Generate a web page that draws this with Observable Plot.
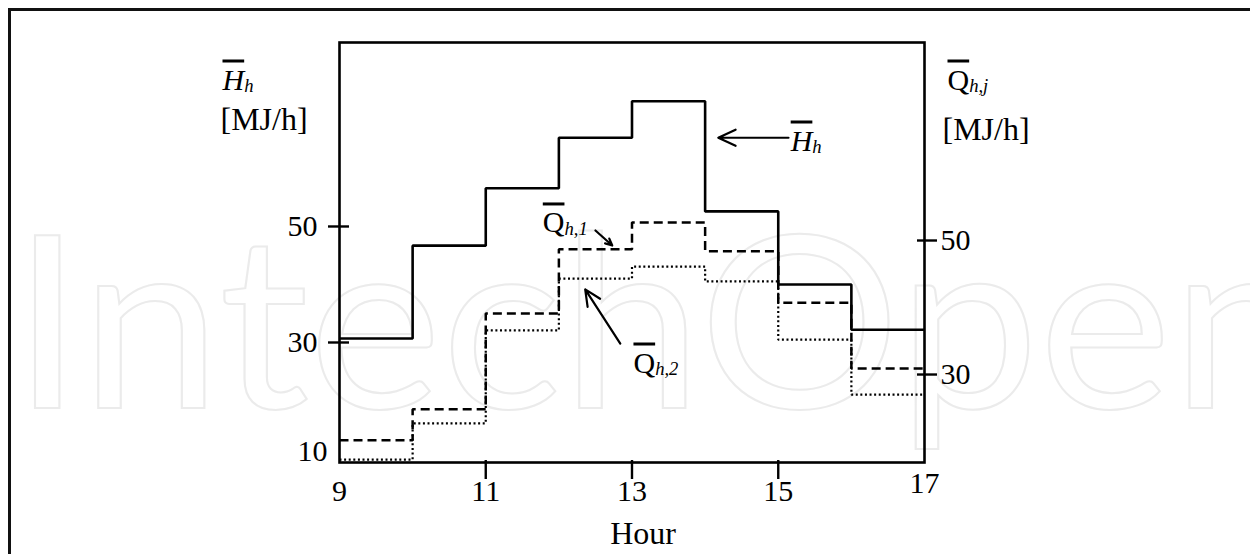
<!DOCTYPE html>
<html>
<head>
<meta charset="utf-8">
<script src="https://cdn.jsdelivr.net/npm/d3@7"></script>
<script src="https://cdn.jsdelivr.net/npm/@observablehq/plot@0.6"></script>
<style>
  html, body { margin: 0; padding: 0; background: #fff; }
  #fig { position: relative; width: 1250px; height: 554px; overflow: hidden; background: #fff; }
  #border { position: absolute; left: 8px; top: 8px; width: 1400px; height: 700px;
            border-left: 3px solid #111; border-top: 3px solid #111; }
  .layer { position: absolute; left: 0; top: 0; }
</style>
</head>
<body>
<div id="fig">
  <div id="border"></div>
  <svg class="layer" width="1250" height="554" overflow="hidden">
    <text x="12" y="408" font-family="Lato" font-size="240" fill="none" stroke="#ebebeb" stroke-width="2"
          textLength="1300" lengthAdjust="spacingAndGlyphs">IntechOpen</text>
  </svg>
</div>
<script>
// ---- data ----
const hours = [9, 10, 11, 12, 13, 14, 15, 16];      // start of each hourly step
const hourEnd = 17;                                    // end of the last step
const heatH = [30.7, 46.7, 56.6, 65.3, 71.6, 52.6, 40.0, 32.2];   // H̄_h [MJ/h], left axis
const heatQ1 = [20.2, 24.8, 39.1, 48.7, 52.7, 48.4, 40.7, 30.9];  // Q̄_h,1 [MJ/h], right axis
const heatQ2 = [17.3, 22.7, 36.6, 44.3, 46.1, 43.9, 35.2, 27.0];  // Q̄_h,2 [MJ/h], right axis
const xTickLabels = [9, 11, 13, 15];
const xTickLast = [17];
const xTickMarks = [11, 13, 15];
const leftTicks = [30, 50];
const leftExtraLabel = [10];
const rightTicks = [30, 50];

const steps = vals => hours.map((h, i) => ({hour: h, value: vals[i]}))
  .concat([{hour: hourEnd, value: vals[vals.length - 1]}]);

const common = {
  width: 1250, height: 554,
  marginLeft: 339, marginRight: 326, marginTop: 42, marginBottom: 92,
  style: {background: "transparent", fontFamily: "'Liberation Serif', serif", fontSize: "30px", color: "#000", overflow: "visible"}
};

const plotA = Plot.plot({
  ...common,
  x: {domain: [9, 17], label: null},
  y: {domain: [9.31, 81.72], label: null},
  marks: [
    Plot.frame({stroke: "#000", strokeWidth: 2.6}),
    Plot.line(steps(heatH), {x: "hour", y: "value", curve: "step-after", stroke: "#000", strokeWidth: 2.6, strokeLinejoin: "miter", strokeLinecap: "butt"}),
    Plot.axisX({ticks: xTickMarks, tickSize: 19, dy: -2, fill: "none", stroke: "#000", strokeWidth: 2.4, label: null}),
    Plot.axisX({ticks: xTickLabels, tickSize: 0, tickPadding: 17, label: null}),
    Plot.axisX({ticks: xTickLast, tickSize: 0, tickPadding: 9, label: null}),
    Plot.axisY({ticks: leftTicks, tickSize: 21, dx: 10, fill: "none", stroke: "#000", strokeWidth: 2.4, label: null}),
    Plot.axisY({ticks: leftTicks, tickSize: 0, tickPadding: 22, label: null}),
    Plot.axisY({ticks: leftExtraLabel, tickSize: 0, tickPadding: 12, dy: -7, label: null}),
    Plot.arrow([{x1: 15.14, y1: 65.3, x2: 14.18, y2: 65.3}], {x1: "x1", y1: "y1", x2: "x2", y2: "y2", stroke: "#000", strokeWidth: 2.2, headLength: 13, headAngle: 50}),
    Plot.text([{x: 15.17, y: 63.1, t: "Hh"}], {x: "x", y: "y", text: "t", textAnchor: "start", lineAnchor: "bottom", fontSize: 30}),
    Plot.text(["Hh"], {text: d => d, frameAnchor: "top-left", dx: -117, dy: 47, textAnchor: "start", lineAnchor: "bottom", fontSize: 30}),
    Plot.text(["[MJ/h]"], {text: d => d, frameAnchor: "top-left", dx: -119, dy: 87, textAnchor: "start", lineAnchor: "bottom", fontSize: 32}),
    Plot.text(["Hour"], {text: d => d, frameAnchor: "bottom", dx: 11, dy: 81, textAnchor: "middle", lineAnchor: "bottom", fontSize: 32})
  ]
});

const plotB = Plot.plot({
  ...common,
  x: {domain: [9, 17], axis: null, label: null},
  y: {domain: [16.87, 79.55], label: null},
  marks: [
    Plot.line(steps(heatQ1), {x: "hour", y: "value", curve: "step-after", stroke: "#000", strokeWidth: 2.5, strokeDasharray: "9,5", strokeLinejoin: "miter", strokeLinecap: "butt"}),
    Plot.line(steps(heatQ2), {x: "hour", y: "value", curve: "step-after", stroke: "#000", strokeWidth: 2.2, strokeDasharray: "2,2.6", strokeLinejoin: "miter", strokeLinecap: "butt"}),
    Plot.axisY({ticks: rightTicks, anchor: "right", tickSize: 20, dx: -8, fill: "none", stroke: "#000", strokeWidth: 2.4, label: null}),
    Plot.axisY({ticks: rightTicks, anchor: "right", tickSize: 0, tickPadding: 16, label: null}),
    Plot.arrow([{x1: 12.50, y1: 51.5, x2: 12.73, y2: 49.25}, {x1: 12.84, y1: 34.6, x2: 12.36, y2: 42.7}],
      {x1: "x1", y1: "y1", x2: "x2", y2: "y2", stroke: "#000", strokeWidth: 2.2, headLength: 12, headAngle: 50}),
    Plot.text([{x: 11.78, y: 51.2, t: "Qh,1"}, {x: 13.02, y: 30.3, t: "Qh,2"}], {x: "x", y: "y", text: "t", textAnchor: "start", lineAnchor: "bottom", fontSize: 30}),
    Plot.text(["Qh,j"], {text: d => d, frameAnchor: "top-right", dx: 23, dy: 47, textAnchor: "start", lineAnchor: "bottom", fontSize: 30}),
    Plot.text(["[MJ/h]"], {text: d => d, frameAnchor: "top-right", dx: 18, dy: 97, textAnchor: "start", lineAnchor: "bottom", fontSize: 32})
  ]
});

const fig = document.getElementById("fig");
for (const p of [plotA, plotB]) {
  p.classList.add("layer");
  p.style.position = "absolute";
  p.style.left = "0px";
  p.style.top = "0px";
  fig.appendChild(p);
}

// symbols with overline and subscript
const symbols = {
  "Hh": {base: "H", sub: "h", italic: true},
  "Qh,1": {base: "Q", sub: "h,1"},
  "Qh,2": {base: "Q", sub: "h,2"},
  "Qh,j": {base: "Q", sub: "h,j"}
};
d3.selectAll("#fig svg text").each(function () {
  const f = symbols[this.textContent];
  if (!f) return;
  const t = d3.select(this);
  t.text("");
  t.append("tspan")
    .attr("font-style", f.italic ? "italic" : null)
    .style("text-decoration", "overline")
    .style("text-decoration-thickness", "2px")
    .text(f.base);
  t.append("tspan")
    .attr("font-size", "0.62em")
    .attr("font-style", "italic")
    .attr("dy", "0.12em")
    .text(f.sub);
});
</script>
</body>
</html>
